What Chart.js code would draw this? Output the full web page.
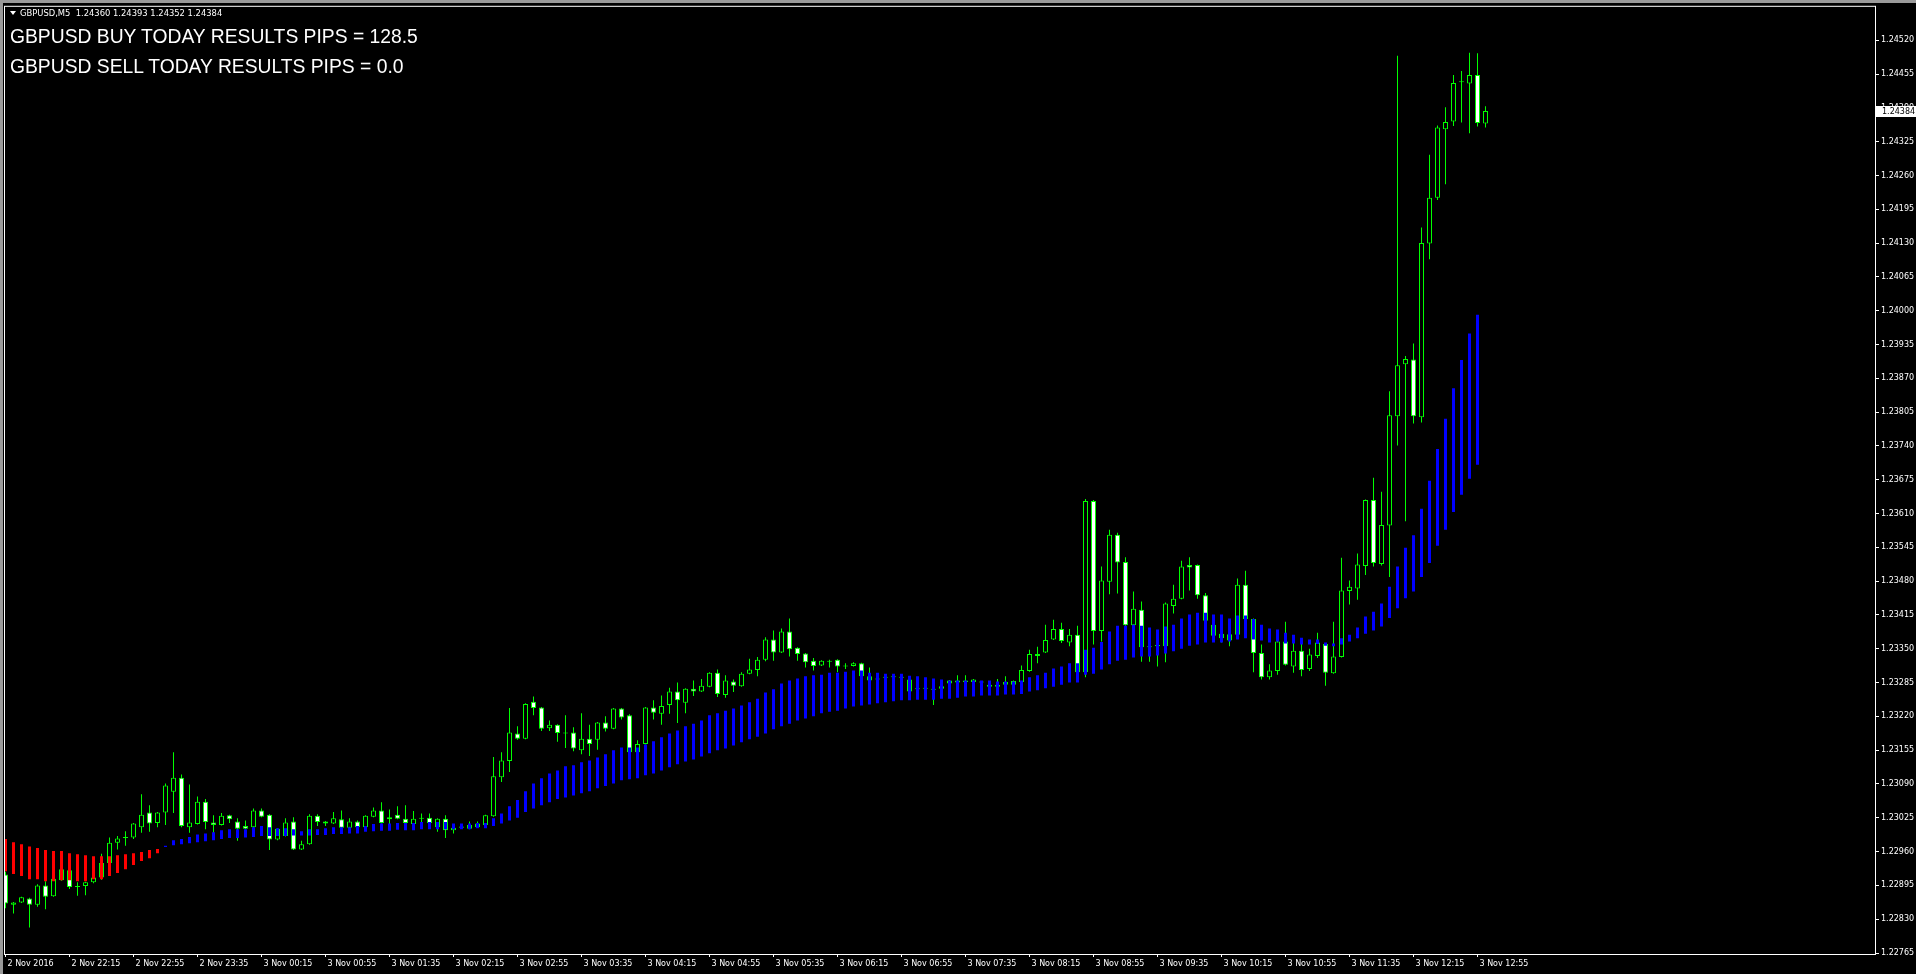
<!DOCTYPE html>
<html>
<head>
<meta charset="utf-8">
<title>GBPUSD,M5</title>
<script src="https://cdn.jsdelivr.net/npm/chart.js@4.4.1/dist/chart.umd.min.js"></script>
<style>
  html, body { margin: 0; padding: 0; background: #000; overflow: hidden; }
  #wrap { position: relative; width: 1916px; height: 974px; background: #000; }
  #chart { position: absolute; left: 0; top: 0; }
  .frame-top { position: absolute; left: 0; top: 0; width: 1916px; height: 3px; background: #9a9a9a; }
  .frame-left { position: absolute; left: 0; top: 0; width: 3px; height: 974px; background: #9a9a9a; }
  .tri { position: absolute; left: 10px; top: 11px; width: 0; height: 0;
         border-left: 3px solid transparent; border-right: 3px solid transparent; border-top: 4px solid #fff; }
  .info { position: absolute; left: 20px; top: 9px; font: 8.4px/8px "DejaVu Sans"; color: #fff; white-space: pre; }
  .pips { position: absolute; left: 10px; font: 19.3px/19px "Liberation Sans", Arial; color: #fff; white-space: pre; }
</style>
</head>
<body>
<div id="wrap">
  <canvas id="chart" width="1916" height="974"></canvas>
  <div class="frame-top"></div>
  <div class="frame-left"></div>
  <div class="tri"></div>
  <div class="info" id="info"></div>
  <div class="pips" style="top:27px">GBPUSD BUY TODAY RESULTS PIPS = 128.5</div>
  <div class="pips" style="top:57px">GBPUSD SELL TODAY RESULTS PIPS = 0.0</div>
</div>
<script>
// M5 bars, 2 Nov 21:35 .. 3 Nov 13:00
const opens = [
  1.22916, 1.22858, 1.22862, 1.22870, 1.22858, 1.22895, 1.22874, 1.22905, 1.22924, 1.22894,
  1.22894, 1.22901, 1.22910, 1.22938, 1.22977, 1.22988, 1.22987, 1.23007, 1.23035, 1.23015,
  1.23035, 1.23075, 1.23102, 1.23007, 1.23013, 1.23056, 1.23016, 1.23011, 1.23030, 1.23018,
  1.23009, 1.23007, 1.23039, 1.23031, 1.22983, 1.22990, 1.23018, 1.22964, 1.22974, 1.23029,
  1.23018, 1.23014, 1.23022, 1.23006, 1.23018, 1.23007, 1.23027, 1.23039, 1.23026, 1.23031,
  1.23023, 1.23013, 1.23025, 1.23025, 1.23007, 1.23023, 1.23001, 1.23006, 1.23004, 1.23007,
  1.23011, 1.23028, 1.23103, 1.23134, 1.23187, 1.23177, 1.23248, 1.23237, 1.23197, 1.23204,
  1.23189, 1.23189, 1.23155, 1.23177, 1.23175, 1.23208, 1.23196, 1.23235, 1.23222, 1.23151,
  1.23167, 1.23237, 1.23225, 1.23242, 1.23268, 1.23246, 1.23273, 1.23268, 1.23277, 1.23304,
  1.23261, 1.23287, 1.23278, 1.23302, 1.23309, 1.23329, 1.23368, 1.23343, 1.23383, 1.23352,
  1.23341, 1.23327, 1.23318, 1.23327, 1.23329, 1.23316, 1.23317, 1.23322, 1.23289, 1.23293,
  1.23294, 1.23295, 1.23296, 1.23268, 1.23274, 1.23273, 1.23273, 1.23273, 1.23283, 1.23285,
  1.23286, 1.23286, 1.23287, 1.23281, 1.23277, 1.23281, 1.23281, 1.23286, 1.23307, 1.23340,
  1.23343, 1.23368, 1.23388, 1.23362, 1.23377, 1.23305, 1.23634, 1.23384, 1.23479, 1.23569,
  1.23517, 1.23395, 1.23425, 1.23353, 1.23355, 1.23355, 1.23432, 1.23446, 1.23511, 1.23511,
  1.23453, 1.23375, 1.23370, 1.23378, 1.23377, 1.23473, 1.23407, 1.23342, 1.23295, 1.23307,
  1.23364, 1.23316, 1.23346, 1.23311, 1.23336, 1.23359, 1.23303, 1.23334, 1.23461, 1.23466,
  1.23509, 1.23636, 1.23513, 1.23587, 1.23797, 1.23897, 1.23906, 1.23795, 1.24129, 1.24217,
  1.24349, 1.24364, 1.24441, 1.24437, 1.24453, 1.24360
];
const highs = [
  1.22921, 1.22863, 1.22873, 1.22871, 1.22897, 1.22903, 1.22909, 1.22927, 1.22925, 1.22901,
  1.22902, 1.22911, 1.22956, 1.22987, 1.22990, 1.22999, 1.23015, 1.23070, 1.23049, 1.23036,
  1.23091, 1.23151, 1.23108, 1.23089, 1.23066, 1.23061, 1.23030, 1.23034, 1.23031, 1.23024,
  1.23020, 1.23043, 1.23043, 1.23032, 1.23005, 1.23024, 1.23026, 1.22981, 1.23032, 1.23032,
  1.23019, 1.23036, 1.23039, 1.23024, 1.23020, 1.23030, 1.23045, 1.23055, 1.23041, 1.23047,
  1.23049, 1.23038, 1.23033, 1.23033, 1.23024, 1.23030, 1.23007, 1.23010, 1.23018, 1.23018,
  1.23031, 1.23142, 1.23151, 1.23236, 1.23201, 1.23245, 1.23258, 1.23238, 1.23212, 1.23205,
  1.23222, 1.23199, 1.23226, 1.23204, 1.23209, 1.23220, 1.23236, 1.23236, 1.23224, 1.23174,
  1.23238, 1.23251, 1.23260, 1.23275, 1.23285, 1.23274, 1.23289, 1.23292, 1.23305, 1.23310,
  1.23299, 1.23291, 1.23305, 1.23331, 1.23334, 1.23372, 1.23385, 1.23389, 1.23408, 1.23353,
  1.23342, 1.23332, 1.23328, 1.23329, 1.23330, 1.23322, 1.23324, 1.23323, 1.23314, 1.23294,
  1.23297, 1.23298, 1.23297, 1.23292, 1.23275, 1.23276, 1.23274, 1.23279, 1.23290, 1.23299,
  1.23299, 1.23292, 1.23288, 1.23282, 1.23292, 1.23297, 1.23289, 1.23318, 1.23348, 1.23354,
  1.23396, 1.23406, 1.23400, 1.23388, 1.23394, 1.23638, 1.23636, 1.23508, 1.23579, 1.23573,
  1.23526, 1.23460, 1.23441, 1.23356, 1.23358, 1.23439, 1.23473, 1.23519, 1.23526, 1.23512,
  1.23457, 1.23397, 1.23414, 1.23379, 1.23485, 1.23500, 1.23408, 1.23358, 1.23320, 1.23365,
  1.23402, 1.23361, 1.23360, 1.23350, 1.23381, 1.23360, 1.23402, 1.23525, 1.23481, 1.23533,
  1.23637, 1.23679, 1.23652, 1.23845, 1.24490, 1.23913, 1.23937, 1.24160, 1.24300, 1.24356,
  1.24391, 1.24453, 1.24461, 1.24496, 1.24495, 1.24393
];
const lows = [
  1.22851, 1.22841, 1.22861, 1.22814, 1.22854, 1.22849, 1.22873, 1.22904, 1.22888, 1.22875,
  1.22876, 1.22899, 1.22906, 1.22937, 1.22964, 1.22971, 1.22984, 1.22996, 1.22998, 1.23007,
  1.23011, 1.23034, 1.23007, 1.22996, 1.23012, 1.23003, 1.22996, 1.23010, 1.23015, 1.22981,
  1.23003, 1.23006, 1.23026, 1.22963, 1.22982, 1.22989, 1.22963, 1.22963, 1.22973, 1.23009,
  1.23009, 1.23013, 1.23005, 1.23005, 1.23006, 1.23006, 1.23026, 1.23014, 1.23013, 1.23022,
  1.23014, 1.23012, 1.23017, 1.23014, 1.22998, 1.22986, 1.22995, 1.23004, 1.23003, 1.23006,
  1.23010, 1.23027, 1.23094, 1.23113, 1.23175, 1.23176, 1.23222, 1.23192, 1.23192, 1.23171,
  1.23159, 1.23153, 1.23147, 1.23144, 1.23156, 1.23191, 1.23195, 1.23214, 1.23150, 1.23150,
  1.23166, 1.23214, 1.23204, 1.23225, 1.23207, 1.23226, 1.23259, 1.23267, 1.23276, 1.23257,
  1.23256, 1.23267, 1.23277, 1.23301, 1.23297, 1.23326, 1.23327, 1.23342, 1.23335, 1.23327,
  1.23314, 1.23308, 1.23317, 1.23314, 1.23305, 1.23311, 1.23316, 1.23296, 1.23288, 1.23290,
  1.23293, 1.23294, 1.23293, 1.23267, 1.23271, 1.23272, 1.23242, 1.23272, 1.23282, 1.23284,
  1.23285, 1.23285, 1.23284, 1.23276, 1.23276, 1.23280, 1.23280, 1.23285, 1.23306, 1.23322,
  1.23342, 1.23367, 1.23361, 1.23355, 1.23304, 1.23295, 1.23358, 1.23364, 1.23455, 1.23456,
  1.23394, 1.23394, 1.23325, 1.23325, 1.23316, 1.23324, 1.23418, 1.23445, 1.23462, 1.23446,
  1.23403, 1.23374, 1.23362, 1.23355, 1.23376, 1.23406, 1.23305, 1.23291, 1.23291, 1.23300,
  1.23318, 1.23304, 1.23297, 1.23307, 1.23332, 1.23279, 1.23302, 1.23333, 1.23435, 1.23444,
  1.23492, 1.23508, 1.23510, 1.23488, 1.23741, 1.23595, 1.23783, 1.23785, 1.24099, 1.24213,
  1.24243, 1.24355, 1.24362, 1.24341, 1.24354, 1.24352
];
const closes = [
  1.22860, 1.22862, 1.22872, 1.22858, 1.22895, 1.22873, 1.22908, 1.22926, 1.22892, 1.22892,
  1.22901, 1.22910, 1.22938, 1.22977, 1.22985, 1.22986, 1.23014, 1.23031, 1.23014, 1.23035,
  1.23087, 1.23102, 1.23009, 1.23016, 1.23056, 1.23017, 1.23011, 1.23029, 1.23022, 1.23004,
  1.23004, 1.23039, 1.23027, 1.22983, 1.23004, 1.23016, 1.22964, 1.22974, 1.23029, 1.23017,
  1.23014, 1.23024, 1.23006, 1.23018, 1.23007, 1.23029, 1.23039, 1.23015, 1.23022, 1.23023,
  1.23015, 1.23023, 1.23023, 1.23015, 1.23023, 1.23001, 1.23006, 1.23008, 1.23011, 1.23014,
  1.23030, 1.23105, 1.23135, 1.23189, 1.23177, 1.23244, 1.23236, 1.23196, 1.23204, 1.23188,
  1.23187, 1.23158, 1.23177, 1.23167, 1.23208, 1.23196, 1.23235, 1.23218, 1.23151, 1.23167,
  1.23237, 1.23227, 1.23240, 1.23268, 1.23251, 1.23273, 1.23268, 1.23279, 1.23304, 1.23263,
  1.23289, 1.23279, 1.23302, 1.23310, 1.23329, 1.23368, 1.23343, 1.23383, 1.23349, 1.23340,
  1.23324, 1.23317, 1.23327, 1.23325, 1.23316, 1.23318, 1.23322, 1.23297, 1.23297, 1.23291,
  1.23296, 1.23297, 1.23294, 1.23291, 1.23272, 1.23275, 1.23271, 1.23278, 1.23289, 1.23289,
  1.23289, 1.23291, 1.23285, 1.23277, 1.23281, 1.23286, 1.23288, 1.23309, 1.23340, 1.23336,
  1.23367, 1.23388, 1.23365, 1.23377, 1.23305, 1.23634, 1.23384, 1.23481, 1.23569, 1.23516,
  1.23395, 1.23427, 1.23353, 1.23355, 1.23357, 1.23437, 1.23446, 1.23508, 1.23506, 1.23453,
  1.23404, 1.23396, 1.23379, 1.23366, 1.23473, 1.23407, 1.23342, 1.23295, 1.23308, 1.23364,
  1.23319, 1.23346, 1.23309, 1.23339, 1.23362, 1.23304, 1.23335, 1.23462, 1.23469, 1.23512,
  1.23636, 1.23515, 1.23588, 1.23799, 1.23895, 1.23907, 1.23797, 1.24130, 1.24217, 1.24352,
  1.24363, 1.24438, 1.24439, 1.24453, 1.24361, 1.24384
];
// two moving averages, the histogram is drawn between them
const maFast = [
  1.22922, 1.22917, 1.22913, 1.22907, 1.22907, 1.22903, 1.22903, 1.22905, 1.22905, 1.22903,
  1.22903, 1.22907, 1.22907, 1.22913, 1.22919, 1.22926, 1.22934, 1.22942, 1.22947, 1.22957,
  1.22971, 1.22982, 1.22984, 1.22988, 1.22993, 1.22995, 1.22997, 1.23001, 1.23003, 1.23003,
  1.23003, 1.23007, 1.23009, 1.23007, 1.23005, 1.23005, 1.23003, 1.22999, 1.23003, 1.23003,
  1.23005, 1.23007, 1.23007, 1.23007, 1.23009, 1.23009, 1.23013, 1.23014, 1.23014, 1.23015,
  1.23015, 1.23015, 1.23017, 1.23017, 1.23017, 1.23017, 1.23014, 1.23014, 1.23014, 1.23015,
  1.23015, 1.23024, 1.23033, 1.23047, 1.23059, 1.23076, 1.23091, 1.23101, 1.23110, 1.23116,
  1.23124, 1.23126, 1.23132, 1.23135, 1.23141, 1.23147, 1.23155, 1.23160, 1.23160, 1.23160,
  1.23166, 1.23172, 1.23180, 1.23187, 1.23193, 1.23201, 1.23206, 1.23212, 1.23222, 1.23226,
  1.23231, 1.23235, 1.23241, 1.23247, 1.23254, 1.23266, 1.23272, 1.23283, 1.23289, 1.23293,
  1.23297, 1.23299, 1.23300, 1.23304, 1.23304, 1.23306, 1.23308, 1.23308, 1.23304, 1.23304,
  1.23302, 1.23302, 1.23302, 1.23298, 1.23297, 1.23295, 1.23293, 1.23291, 1.23289, 1.23289,
  1.23289, 1.23289, 1.23289, 1.23289, 1.23287, 1.23287, 1.23287, 1.23289, 1.23295, 1.23299,
  1.23304, 1.23312, 1.23316, 1.23322, 1.23322, 1.23348, 1.23352, 1.23363, 1.23383, 1.23394,
  1.23394, 1.23396, 1.23394, 1.23391, 1.23387, 1.23393, 1.23396, 1.23408, 1.23416, 1.23419,
  1.23419, 1.23416, 1.23416, 1.23408, 1.23414, 1.23414, 1.23407, 1.23396, 1.23389, 1.23387,
  1.23381, 1.23377, 1.23371, 1.23368, 1.23368, 1.23362, 1.23360, 1.23370, 1.23377, 1.23391,
  1.23412, 1.23421, 1.23437, 1.23469, 1.23508, 1.23544, 1.23568, 1.23619, 1.23673, 1.23734,
  1.23792, 1.23851, 1.23905, 1.23956, 1.23992, null
];
const maSlow = [
  1.22984, 1.22978, 1.22974, 1.22970, 1.22967, 1.22963, 1.22961, 1.22961, 1.22957, 1.22955,
  1.22953, 1.22951, 1.22951, 1.22951, 1.22953, 1.22955, 1.22957, 1.22959, 1.22963, 1.22965,
  1.22969, 1.22972, 1.22974, 1.22976, 1.22978, 1.22980, 1.22982, 1.22984, 1.22986, 1.22986,
  1.22987, 1.22988, 1.22990, 1.22990, 1.22990, 1.22990, 1.22991, 1.22991, 1.22991, 1.22992,
  1.22992, 1.22994, 1.22994, 1.22995, 1.22995, 1.22998, 1.22999, 1.23000, 1.23000, 1.23002,
  1.23001, 1.23001, 1.23003, 1.23003, 1.23003, 1.23003, 1.23003, 1.23003, 1.23003, 1.23005,
  1.23005, 1.23009, 1.23014, 1.23020, 1.23025, 1.23036, 1.23043, 1.23049, 1.23055, 1.23061,
  1.23064, 1.23068, 1.23072, 1.23076, 1.23082, 1.23086, 1.23091, 1.23097, 1.23099, 1.23101,
  1.23107, 1.23110, 1.23116, 1.23122, 1.23128, 1.23133, 1.23137, 1.23143, 1.23149, 1.23155,
  1.23158, 1.23164, 1.23170, 1.23176, 1.23181, 1.23187, 1.23195, 1.23201, 1.23206, 1.23212,
  1.23216, 1.23220, 1.23226, 1.23229, 1.23231, 1.23235, 1.23239, 1.23241, 1.23243, 1.23245,
  1.23247, 1.23249, 1.23251, 1.23251, 1.23252, 1.23252, 1.23252, 1.23254, 1.23254, 1.23256,
  1.23258, 1.23258, 1.23260, 1.23260, 1.23260, 1.23262, 1.23262, 1.23263, 1.23268, 1.23270,
  1.23274, 1.23277, 1.23281, 1.23285, 1.23285, 1.23300, 1.23302, 1.23310, 1.23320, 1.23327,
  1.23329, 1.23333, 1.23335, 1.23335, 1.23337, 1.23341, 1.23345, 1.23350, 1.23356, 1.23358,
  1.23362, 1.23362, 1.23362, 1.23364, 1.23368, 1.23370, 1.23368, 1.23366, 1.23362, 1.23364,
  1.23360, 1.23360, 1.23358, 1.23358, 1.23359, 1.23356, 1.23355, 1.23358, 1.23364, 1.23370,
  1.23379, 1.23385, 1.23393, 1.23409, 1.23428, 1.23447, 1.23460, 1.23488, 1.23515, 1.23548,
  1.23579, 1.23613, 1.23646, 1.23677, 1.23704, null
];
const timeLabels = [
  '2 Nov 2016', '2 Nov 22:15', '2 Nov 22:55', '2 Nov 23:35', '3 Nov 00:15', '3 Nov 00:55',
  '3 Nov 01:35', '3 Nov 02:15', '3 Nov 02:55', '3 Nov 03:35', '3 Nov 04:15', '3 Nov 04:55',
  '3 Nov 05:35', '3 Nov 06:15', '3 Nov 06:55', '3 Nov 07:35', '3 Nov 08:15', '3 Nov 08:55',
  '3 Nov 09:35', '3 Nov 10:15', '3 Nov 10:55', '3 Nov 11:35', '3 Nov 12:15', '3 Nov 12:55'
];
const priceTicks = [
  1.22765, 1.22830, 1.22895, 1.22960, 1.23025, 1.23090, 1.23155, 1.23220, 1.23285, 1.23350,
  1.23415, 1.23480, 1.23545, 1.23610, 1.23675, 1.23740, 1.23805, 1.23870, 1.23935, 1.24000,
  1.24065, 1.24130, 1.24195, 1.24260, 1.24325, 1.24390, 1.24455, 1.24520
];

const GREEN = '#00ff00';
const last = closes.length - 1;
const fmt = v => v.toFixed(5);

document.getElementById('info').textContent =
  'GBPUSD,M5  ' + [opens[last], highs[last], lows[last], closes[last]].map(fmt).join(' ');

const wicks = lows.map((l, i) => ({ x: i, y: [l, highs[i]] }));
const bodies = opens.map((o, i) => ({ x: i, y: [o, closes[i]] }));
const band = maFast.map((f, i) => ({ x: i, y: f === null ? null : [maSlow[i], f] }));

const tickEvery = 8; // one time label per 8 bars (40 min)

const frame = {
  id: 'frame',
  afterDraw(chart) {
    const ctx = chart.ctx;
    const a = chart.chartArea;
    ctx.save();
    ctx.strokeStyle = '#ffffff';
    ctx.lineWidth = 1;
    ctx.strokeRect(a.left - 0.5, a.top - 0.5, a.right - a.left + 1, a.bottom - a.top + 1);

    // current price tag on the price scale
    const y = chart.scales.y.getPixelForValue(closes[last]);
    ctx.fillStyle = '#ffffff';
    ctx.fillRect(a.right + 1, Math.round(y) - 5, 1916 - a.right, 11);
    ctx.fillStyle = '#000000';
    ctx.font = '8px "DejaVu Sans"';
    ctx.textBaseline = 'middle';
    ctx.fillText(fmt(closes[last]), a.right + 7, Math.round(y) + 0.5);
    ctx.restore();
  }
};

new Chart(document.getElementById('chart'), {
  type: 'bar',
  data: {
    datasets: [
      {
        label: 'MA band',
        data: band,
        backgroundColor: c => (c.dataIndex !== undefined && maFast[c.dataIndex] < maSlow[c.dataIndex]) ? '#ff0000' : '#0000ff',
        borderWidth: 0,
        barThickness: 3,
        grouped: false,
        inflateAmount: 0,
        order: 0
      },
      {
        label: 'bodies',
        data: bodies,
        backgroundColor: c => (c.dataIndex !== undefined && closes[c.dataIndex] < opens[c.dataIndex]) ? '#ffffff' : '#000000',
        borderColor: GREEN,
        borderWidth: 1,
        borderSkipped: false,
        barThickness: 5,
        grouped: false,
        inflateAmount: 0,
        order: 1
      },
      {
        label: 'wicks',
        data: wicks,
        backgroundColor: GREEN,
        borderWidth: 0,
        barThickness: 1,
        grouped: false,
        inflateAmount: 0,
        order: 2
      }
    ]
  },
  options: {
    responsive: false,
    animation: false,
    events: [],
    layout: { padding: { left: 5, top: 5, right: 0, bottom: 0 } },
    plugins: { legend: { display: false }, tooltip: { enabled: false } },
    scales: {
      x: {
        type: 'linear',
        offset: false,
        bounds: 'data',
        min: -0.0625,
        max: 233.6875,
        afterBuildTicks: s => { s.ticks = timeLabels.map((_, k) => ({ value: k * tickEvery })); },
        afterFit: s => { s.height = 20; },
        grid: { offset: false, drawOnChartArea: false, drawTicks: true, tickLength: 3, color: '#ffffff' },
        border: { display: false },
        ticks: {
          autoSkip: false, maxRotation: 0, minRotation: 0,
          align: 'start', labelOffset: 2, padding: 2,
          color: '#ffffff',
          font: { family: 'DejaVu Sans', size: 8 },
          callback: (v, k) => timeLabels[k]
        }
      },
      y: {
        type: 'linear',
        position: 'right',
        bounds: 'data',
        beginAtZero: false,
        min: 1.2276308,
        max: 1.2458431,
        afterBuildTicks: s => { s.ticks = priceTicks.map(v => ({ value: v })); },
        afterFit: s => { s.width = 41; },
        grid: { drawOnChartArea: false, drawTicks: true, tickLength: 4, color: '#ffffff' },
        border: { display: false },
        ticks: {
          autoSkip: false, padding: 2,
          color: '#ffffff',
          font: { family: 'DejaVu Sans', size: 8 },
          callback: v => fmt(v)
        }
      }
    }
  },
  plugins: [frame]
});
</script>
</body>
</html>
